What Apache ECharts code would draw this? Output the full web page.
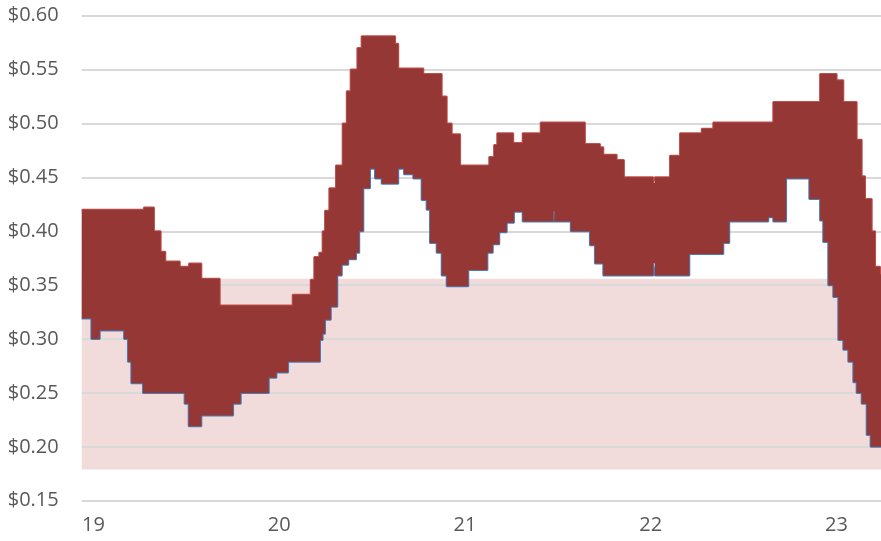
<!DOCTYPE html>
<html>
<head>
<meta charset="utf-8">
<script src="https://cdn.jsdelivr.net/npm/echarts@6/dist/echarts.min.js"></script>
<style>
html,body{margin:0;padding:0;background:#fff;}
#chart{width:881px;height:541px;}
</style>
</head>
<body>
<div id="chart"></div>
<script>
// x values are fractional years (19 = start of 2019)
const highX = [18.937,19.272,19.326,19.362,19.387,19.465,19.515,19.581,19.680,20.073,20.170,20.189,20.216,20.234,20.247,20.270,20.306,20.342,20.364,20.385,20.421,20.444,20.624,20.641,20.776,20.875,20.902,20.929,20.974,21.131,21.157,21.174,21.260,21.311,21.408,21.646,21.727,21.745,21.817,21.856,22.014,22.023,22.104,22.158,22.275,22.337,22.660,22.912,23.001,23.037,23.109,23.136,23.154,23.190,23.208,23.235,23.240];
const highV = [0.420,0.422,0.400,0.381,0.372,0.367,0.370,0.356,0.331,0.341,0.355,0.376,0.380,0.400,0.419,0.440,0.461,0.500,0.530,0.550,0.570,0.581,0.574,0.551,0.546,0.525,0.500,0.490,0.461,0.469,0.480,0.491,0.482,0.491,0.501,0.481,0.478,0.471,0.466,0.450,0.445,0.450,0.470,0.491,0.495,0.501,0.520,0.546,0.540,0.520,0.485,0.451,0.430,0.400,0.367,0.360,0.360];

const lowX = [18.937,18.989,19.034,19.165,19.186,19.204,19.267,19.491,19.513,19.581,19.752,19.793,19.944,19.985,20.048,20.220,20.234,20.247,20.278,20.313,20.337,20.372,20.414,20.431,20.453,20.489,20.516,20.552,20.641,20.672,20.722,20.767,20.794,20.812,20.848,20.875,20.902,21.018,21.121,21.150,21.185,21.225,21.264,21.311,21.476,21.481,21.570,21.673,21.700,21.745,22.014,22.023,22.208,22.391,22.423,22.633,22.660,22.729,22.854,22.912,22.929,22.956,22.983,23.010,23.037,23.064,23.091,23.109,23.136,23.163,23.184,23.240];
const lowV = [0.319,0.300,0.308,0.300,0.279,0.259,0.250,0.240,0.219,0.229,0.240,0.250,0.264,0.269,0.279,0.299,0.305,0.318,0.330,0.359,0.369,0.374,0.380,0.400,0.440,0.458,0.449,0.444,0.458,0.453,0.449,0.429,0.420,0.389,0.380,0.359,0.349,0.364,0.380,0.388,0.399,0.408,0.418,0.409,0.418,0.409,0.400,0.387,0.370,0.359,0.370,0.359,0.379,0.389,0.409,0.413,0.409,0.449,0.430,0.410,0.390,0.350,0.339,0.299,0.290,0.279,0.260,0.250,0.240,0.211,0.200,0.200];

const xTickValues = [19, 20, 21, 22, 23];
const xTickLabels = ['19', '20', '21', '22', '23'];
const bandRange = [0.179, 0.356];

const xMin = 18.937, xMax = 23.240;
const font = 'Open Sans';
const textColor = '#595959';

function zip(xs, vs) { return xs.map((x, i) => [x, vs[i]]); }

function stepPoints(xs, vs, api) {
  const pts = [];
  for (let i = 0; i < xs.length; i++) {
    pts.push(api.coord([xs[i], vs[i]]));
    if (i + 1 < xs.length) pts.push(api.coord([xs[i + 1], vs[i]]));
  }
  return pts;
}

const chart = echarts.init(document.getElementById('chart'), null, {renderer: 'canvas'});
chart.setOption({
  animation: false,
  backgroundColor: '#ffffff',
  grid: {left: 81.7, right: 0, top: 15.7, bottom: 40.3, containLabel: false},
  xAxis: {
    type: 'value', min: xMin, max: xMax,
    axisLine: {show: false}, axisTick: {show: false}, splitLine: {show: false},
    axisLabel: {
      customValues: xTickValues,
      formatter: v => xTickLabels[xTickValues.indexOf(Math.round(v))] || '',
      color: textColor, fontFamily: font, fontSize: 20, margin: 15
    }
  },
  yAxis: {
    type: 'value', min: 0.15, max: 0.60, interval: 0.05,
    axisLine: {show: false}, axisTick: {show: false},
    splitLine: {show: true, lineStyle: {color: '#d9d9d9', width: 2}},
    axisLabel: {
      formatter: v => '$' + v.toFixed(2),
      color: textColor, fontFamily: font, fontSize: 20, margin: 23
    }
  },
  series: [
    {
      type: 'line', name: 'band', data: [], z: -2, silent: true,
      markArea: {
        silent: true, z: -2,
        itemStyle: {color: '#f2dcdb'},
        data: [[{xAxis: xMin, yAxis: bandRange[0]}, {xAxis: xMax, yAxis: bandRange[1]}]]
      }
    },
    {
      type: 'line', name: 'Low', step: 'end', data: zip(lowX, lowV), z: 2,
      showSymbol: false, symbol: 'none',
      lineStyle: {color: '#4a7ebb', width: 2}
    },
    {
      type: 'line', name: 'High', step: 'end', data: zip(highX, highV), z: 2,
      showSymbol: false, symbol: 'none',
      lineStyle: {color: '#c0504d', width: 2}
    },
    {
      type: 'custom', name: 'Range', z: 3,
      data: [[highX[0], highV[0]]],
      encode: {x: 0, y: 1},
      renderItem: function (params, api) {
        const upper = stepPoints(highX, highV, api);
        const lower = stepPoints(lowX, lowV, api).reverse();
        return {
          type: 'polygon',
          z2: 10,
          shape: {points: upper.concat(lower)},
          style: {fill: '#953735', stroke: null}
        };
      }
    }
  ]
});
</script>
</body>
</html>
